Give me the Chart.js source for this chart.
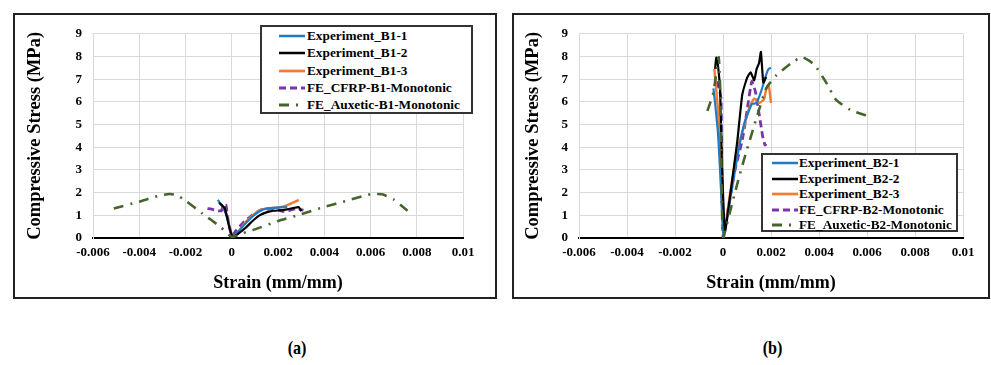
<!DOCTYPE html>
<html>
<head>
<meta charset="utf-8">
<script src="https://cdn.jsdelivr.net/npm/chart.js@4.4.1/dist/chart.umd.min.js"></script>
<style>
	body { margin: 0; background: #fff; width: 991px; height: 365px; position: relative; overflow: hidden; font-family: 'Liberation Serif', 'Times New Roman', serif; }
	.panel { position: absolute; top: 13px; height: 282px; border: 2px solid #222; }
	.panel canvas { position: absolute; left: 0; top: 0; }
	.legend { position: absolute; border: 2px solid #333; background: #fff; font-weight: bold; font-size: 13.3px; color: #000; }
	.legend .row { position: absolute; left: 0; height: 16px; line-height: 16px; white-space: nowrap; }
	.legend svg { position: absolute; left: 0; top: 0; }
	.legend span { position: absolute; top: 0; }
	.caption { position: absolute; top: 337px; font-weight: bold; font-size: 19px; transform: scaleX(0.85); }
</style>
</head>
<body>
<div class="panel" id="panelA" style="left:13px;width:480px;">
	<canvas id="ChartB1" width="480" height="282"></canvas>
	<div class="legend" id="legendB1" style="left:245px;top:10px;width:209px;height:85px;"></div>
</div>
<div class="panel" id="panelB" style="left:512px;width:474px;">
	<canvas id="ChartB2" width="474" height="282"></canvas>
	<div class="legend" id="legendB2" style="left:247px;top:138px;width:193px;height:75px;"></div>
</div>
<div class="caption" style="left:286px;">(a)</div>
<div class="caption" style="left:761px;">(b)</div>

<script>
// strain (mm/mm) / compressive stress (MPa) curves, specimen B1
const b1Exp1Strain = [-0.0006, -0.00045, -0.00035, -0.0002, -0.0001, 0.00002, 0.0003, 0.0006, 0.0009, 0.0012, 0.0015, 0.0018, 0.0021, 0.0024];
const b1Exp1Stress = [1.68, 1.45, 1.3, 0.9, 0.5, 0.05, 0.3, 0.65, 0.95, 1.18, 1.3, 1.33, 1.35, 1.36];
const b1Exp2Strain = [-0.00055, -0.0004, -0.0003, -0.0002, -0.0001, 0.00005, 0.0003, 0.0006, 0.0009, 0.0012, 0.0015, 0.0018, 0.0021, 0.0024, 0.0027, 0.0029, 0.003];
const b1Exp2Stress = [1.55, 1.42, 1.3, 0.9, 0.45, 0.03, 0.2, 0.45, 0.75, 1.0, 1.13, 1.2, 1.22, 1.26, 1.33, 1.36, 1.18];
const b1Exp3Strain = [-0.0004, -0.0003, -0.0002, -0.0001, 0.00005, 0.0003, 0.0006, 0.0009, 0.0012, 0.0015, 0.0018, 0.0021, 0.0024, 0.0027, 0.0029];
const b1Exp3Stress = [1.35, 1.25, 0.95, 0.5, 0.03, 0.3, 0.7, 1.0, 1.22, 1.3, 1.32, 1.36, 1.45, 1.58, 1.68];
const b1CfrpStrain = [-0.00105, -0.0008, -0.0006, -0.00045, -0.00035, -0.00025, -0.00015, 0.0, 0.0002, 0.0005, 0.0009, 0.0013, 0.0017, 0.0020, 0.0022, 0.0025, 0.0028, 0.0031];
const b1CfrpStress = [1.3, 1.25, 1.2, 1.2, 1.45, 1.45, 0.75, 0.1, 0.35, 0.68, 1.02, 1.25, 1.27, 1.25, 1.17, 1.22, 1.3, 1.22];
const b1AuxStrain = [-0.0051, -0.004, -0.0032, -0.0027, -0.0024, -0.002, -0.0013, -0.0005, 0.0, 0.0005, 0.001, 0.002, 0.003, 0.004, 0.005, 0.006, 0.0065, 0.007, 0.0076];
const b1AuxStress = [1.3, 1.6, 1.85, 1.94, 1.9, 1.65, 1.1, 0.5, 0.05, 0.22, 0.38, 0.75, 1.05, 1.37, 1.65, 1.93, 1.93, 1.7, 1.2];

// specimen B2
const b2Exp1Strain = [-0.0004, -0.00033, -0.0002, -0.0001, 0.00003, 0.0003, 0.0006, 0.0009, 0.0012, 0.0014, 0.0016, 0.0018, 0.0019, 0.002];
const b2Exp1Stress = [6.6, 5.95, 4.5, 2.5, 0.05, 1.7, 3.6, 5.1, 5.9, 5.95, 6.5, 7.2, 7.45, 7.5];
const b2Exp2Strain = [-0.00033, -0.00028, -0.00022, -0.00012, -0.00005, 0.00008, 0.0003, 0.0006, 0.0008, 0.001, 0.00115, 0.0013, 0.0014, 0.0015, 0.00158, 0.00168, 0.0018];
const b2Exp2Stress = [7.45, 7.95, 7.7, 6.5, 3.5, 0.3, 1.9, 4.3, 6.3, 7.05, 7.3, 6.95, 7.45, 7.7, 8.2, 6.85, 7.1];
const b2Exp3Strain = [-0.00036, -0.0002, -0.0001, 0.00003, 0.0003, 0.0006, 0.0009, 0.0011, 0.0013, 0.0015, 0.0017, 0.0018, 0.0019, 0.002];
const b2Exp3Stress = [7.45, 5.5, 3.0, 0.05, 2.0, 3.9, 5.0, 5.75, 6.15, 5.95, 6.1, 6.55, 6.75, 5.95];
const b2CfrpStrain = [-0.00027, -0.00015, -0.00008, 0.0, 0.0002, 0.0005, 0.0008, 0.001, 0.0012, 0.00135, 0.0015, 0.00165, 0.00175, 0.0018];
const b2CfrpStress = [6.9, 6.55, 6.1, 0.1, 1.2, 3.0, 4.3, 5.6, 6.9, 6.45, 5.5, 4.5, 4.1, 4.15];
const b2AuxStrain = [-0.00065, -0.0004, -0.00018, -0.0001, 0.0, 0.0004, 0.0007, 0.001, 0.0014, 0.0018, 0.0022, 0.0029, 0.0033, 0.0038, 0.0043, 0.0047, 0.0053, 0.0061];
const b2AuxStress = [5.6, 6.4, 7.97, 6.0, 0.0, 1.6, 2.8, 3.9, 5.3, 6.6, 7.15, 7.75, 7.97, 7.65, 6.85, 6.1, 5.65, 5.35];

const b1Labels = ['Experiment_B1-1', 'Experiment_B1-2', 'Experiment_B1-3', 'FE_CFRP-B1-Monotonic', 'FE_Auxetic-B1-Monotonic'];
const b2Labels = ['Experiment_B2-1', 'Experiment_B2-2', 'Experiment_B2-3', 'FE_CFRP-B2-Monotonic', 'FE_Auxetic-B2-Monotonic'];

const seriesColors = ['#1f7bc6', '#000000', '#f07d33', '#7a34aa', '#46652c'];
const seriesDash = [[], [], [], [7, 4], [10, 7, 2, 7]];
const seriesWidth = [2.2, 2.2, 2.4, 2.8, 2.6];

const FONT = "'Liberation Serif', 'Times New Roman', serif";

function toPoints(xs, ys) {
	return xs.map((x, i) => ({x: x, y: ys[i]}));
}

function makeDatasets(labels, curves) {
	// draw order: auxetic underneath, then experiments, CFRP on top
	const order = [4, 1, 0, 2, 3];
	return order.map(i => ({
		label: labels[i],
		data: toPoints(curves[i][0], curves[i][1]),
		borderColor: seriesColors[i],
		borderWidth: seriesWidth[i],
		borderDash: seriesDash[i],
		pointRadius: 0,
		tension: 0.15,
		fill: false
	}));
}

function makeChart(ctx, datasets, yAxisWidth, rightPad, titlePad) {
	return new Chart(ctx, {
		type: 'line',
		data: { datasets: datasets },
		options: {
			responsive: false,
			animation: false,
			layout: { padding: { left: 0, right: rightPad, top: 14, bottom: 0 } },
			plugins: {
				legend: { display: false },
				tooltip: { enabled: false }
			},
			scales: {
				x: {
					type: 'linear',
					min: -0.006,
					max: 0.01,
					afterFit: (scale) => { scale.height = 59; },
					ticks: {
						stepSize: 0.002,
						padding: 7,
						color: '#000',
						font: { family: FONT, size: 13, weight: 'bold' },
						callback: (v) => String(parseFloat(v.toFixed(3)))
					},
					grid: { color: '#d9d9d9', lineWidth: 1, drawTicks: false },
					border: { color: '#000', width: 2 },
					title: {
						display: true,
						text: 'Strain (mm/mm)',
						color: '#000',
						font: { family: FONT, size: 18, weight: 'bold' },
						padding: { top: 0, bottom: 3 }
					}
				},
				y: {
					min: 0,
					max: 9,
					afterFit: (scale) => { scale.width = yAxisWidth; },
					ticks: {
						stepSize: 1,
						padding: 11,
						color: '#000',
						font: { family: FONT, size: 13, weight: 'bold' }
					},
					grid: { color: '#d9d9d9', lineWidth: 1, drawTicks: false },
					border: { color: '#d9d9d9', width: 1 },
					title: {
						display: true,
						text: 'Compressive Stress (MPa)',
						color: '#000',
						font: { family: FONT, size: 18.5, weight: 'bold' },
						padding: { top: titlePad, bottom: 0 }
					}
				}
			}
		}
	});
}

function buildLegend(el, labels, sampleX, sampleW, textX, rowTop, rowGap) {
	labels.forEach((label, i) => {
		const row = document.createElement('div');
		row.className = 'row';
		row.style.top = (rowTop + i * rowGap) + 'px';
		row.style.width = '100%';
		const dash = seriesDash[i].length ? seriesDash[i].join(' ') : 'none';
		row.innerHTML =
			'<svg width="' + (sampleX + sampleW + 2) + '" height="16">' +
			'<line x1="' + sampleX + '" y1="8" x2="' + (sampleX + sampleW) + '" y2="8" stroke="' + seriesColors[i] +
			'" stroke-width="' + (seriesWidth[i] + 0.3) + '" stroke-dasharray="' + dash + '"/></svg>' +
			'<span style="left:' + textX + 'px">' + label + '</span>';
		el.appendChild(row);
	});
}

const b1Curves = [[b1Exp1Strain, b1Exp1Stress], [b1Exp2Strain, b1Exp2Stress], [b1Exp3Strain, b1Exp3Stress], [b1CfrpStrain, b1CfrpStress], [b1AuxStrain, b1AuxStress]];
const b2Curves = [[b2Exp1Strain, b2Exp1Stress], [b2Exp2Strain, b2Exp2Stress], [b2Exp3Strain, b2Exp3Stress], [b2CfrpStrain, b2CfrpStress], [b2AuxStrain, b2AuxStress]];

window.chartB1 = makeChart(document.getElementById('ChartB1').getContext('2d'), makeDatasets(b1Labels, b1Curves), 78, 32, 9);
window.chartB2 = makeChart(document.getElementById('ChartB2').getContext('2d'), makeDatasets(b2Labels, b2Curves), 65, 25, 8);

buildLegend(document.getElementById('legendB1'), b1Labels, 17, 26, 45, 1, 17.3);
buildLegend(document.getElementById('legendB2'), b2Labels, 9, 26, 36, 0, 15.5);
</script>
</body>
</html>
